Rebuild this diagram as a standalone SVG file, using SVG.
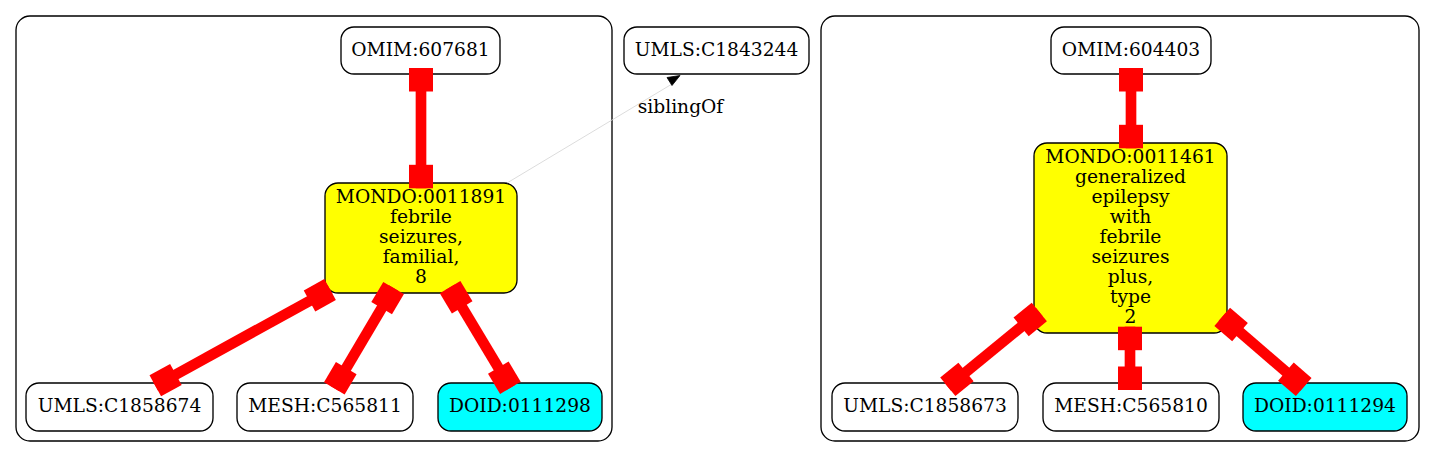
<svg xmlns="http://www.w3.org/2000/svg" width="1435" height="457" viewBox="0 0 1435 457">
<style>
.cl{fill:#ffffff;stroke:#000;stroke-width:1.33}
.n{fill:#ffffff;stroke:#000;stroke-width:1.33}
.mondo{fill:#ffff00}
.doid{fill:#00ffff}
text{font-family:"DejaVu Serif","Liberation Serif",serif;font-size:18.67px;fill:#000;text-anchor:middle}
.e{stroke:#ff0000;stroke-width:10.67;fill:none;marker-start:url(#box);marker-end:url(#box)}
.sib{stroke:#d3d3d3;stroke-width:0.8;fill:none}
</style>
<defs>
<marker id="box" markerUnits="userSpaceOnUse" orient="auto-start-reverse" viewBox="-30 -15 30 30" refX="0" refY="0" markerWidth="30" markerHeight="30" overflow="visible">
<rect x="-23.5" y="-12" width="23.5" height="24" fill="#ff0000"/>
</marker>
</defs>
<rect width="1435" height="457" fill="#ffffff"/>
<g id="cluster_left"><rect class="cl" x="16" y="16" width="596" height="425" rx="14"/></g>
<g id="cluster_right"><rect class="cl" x="821" y="16" width="598" height="425" rx="14"/></g>

<g id="OMIM_607681"><rect class="n" x="341" y="27" width="159" height="47" rx="13"/><text x="420.5" y="56">OMIM:607681</text></g>
<g id="MONDO_0011891"><rect class="n mondo" x="325" y="183" width="192" height="110" rx="13"/>
<text x="421" y="203">MONDO:0011891</text><text x="421" y="223">febrile</text><text x="421" y="243">seizures,</text><text x="421" y="263">familial,</text><text x="421" y="283">8</text></g>
<g id="UMLS_C1858674"><rect class="n" x="26" y="383" width="187" height="48" rx="13"/><text x="119.5" y="412">UMLS:C1858674</text></g>
<g id="MESH_C565811"><rect class="n" x="237" y="383" width="176" height="48" rx="13"/><text x="325" y="412">MESH:C565811</text></g>
<g id="DOID_0111298"><rect class="n doid" x="438" y="383" width="164" height="48" rx="13"/><text x="520" y="412">DOID:0111298</text></g>

<g id="UMLS_C1843244"><rect class="n" x="624" y="27" width="185" height="47" rx="13"/><text x="716.5" y="56">UMLS:C1843244</text></g>

<g id="OMIM_604403"><rect class="n" x="1051" y="27" width="160" height="47" rx="13"/><text x="1131" y="56">OMIM:604403</text></g>
<g id="MONDO_0011461"><rect class="n mondo" x="1034" y="143" width="193" height="190" rx="13"/>
<text x="1130.5" y="163">MONDO:0011461</text><text x="1130.5" y="183">generalized</text><text x="1130.5" y="203">epilepsy</text><text x="1130.5" y="223">with</text><text x="1130.5" y="243">febrile</text><text x="1130.5" y="263">seizures</text><text x="1130.5" y="283">plus,</text><text x="1130.5" y="303">type</text><text x="1130.5" y="323">2</text></g>
<g id="UMLS_C1858673"><rect class="n" x="832" y="383" width="186" height="48" rx="13"/><text x="925" y="412">UMLS:C1858673</text></g>
<g id="MESH_C565810"><rect class="n" x="1043" y="383" width="176" height="48" rx="13"/><text x="1131" y="412">MESH:C565810</text></g>
<g id="DOID_0111294"><rect class="n doid" x="1243" y="383" width="164" height="48" rx="13"/><text x="1325" y="412">DOID:0111294</text></g>

<g id="connectors">
<path class="e" d="M421,68 L421,188.3"/>
<path class="e" d="M330.1,289.6 L155.3,385.8"/>
<path class="e" d="M393.6,288 L334.3,388.3"/>
<path class="e" d="M450.1,287.2 L510.4,387.8"/>
<path class="e" d="M1131,68 L1131,148.3"/>
<path class="e" d="M1039.3,312 L947.8,386.8"/>
<path class="e" d="M1130,326.7 L1130,390"/>
<path class="e" d="M1222.2,316.8 L1303.7,387"/>
<path class="sib" d="M507,183 L672,84"/>
<polygon points="667,77.5 680,75.5 672,85.5" fill="#000" stroke="#000" stroke-width="0.8"/>
<text x="680.5" y="113">siblingOf</text>
</g>
</svg>
